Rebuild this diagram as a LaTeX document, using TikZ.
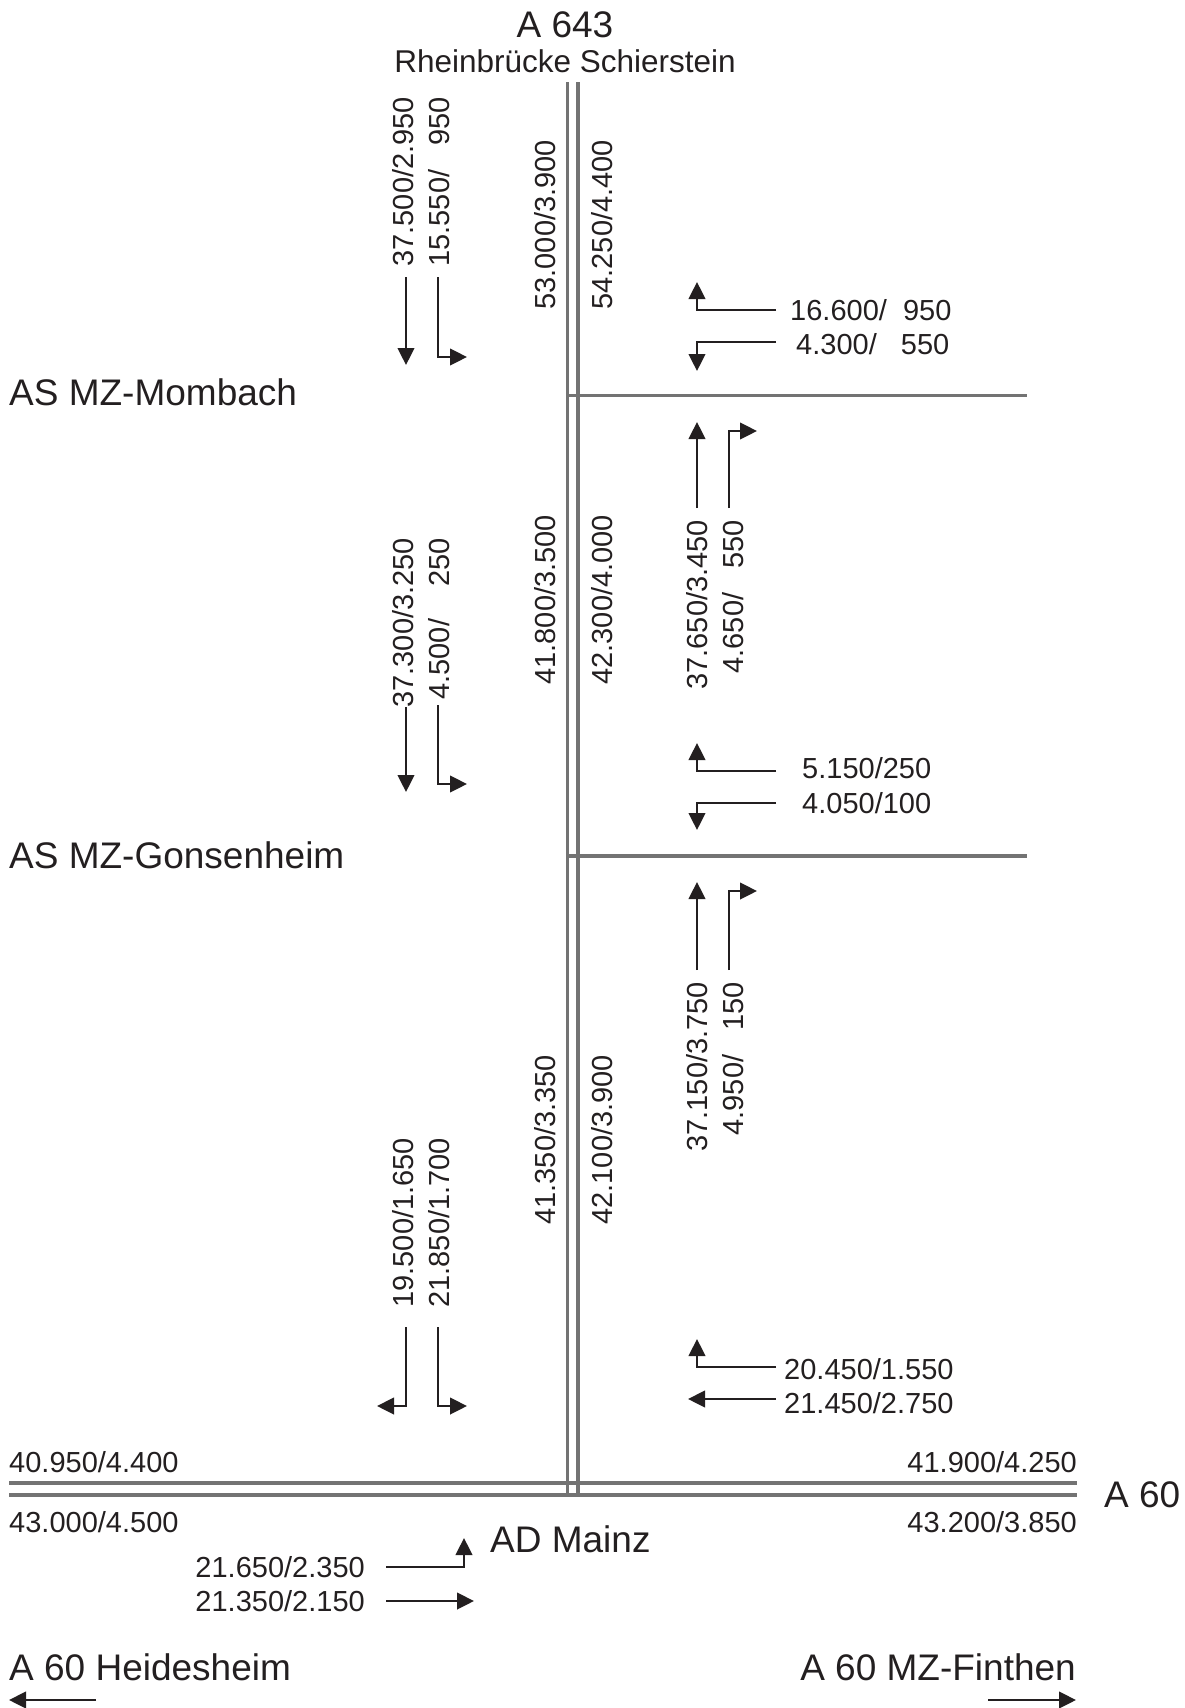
\documentclass[tikz,border=0pt]{standalone}
\usepackage{fontspec}
\setmainfont{Liberation Sans}
\usetikzlibrary{arrows.meta}
\definecolor{ink}{HTML}{231F20}
\definecolor{road}{HTML}{737373}
\newcommand{\sps}[1]{\hspace*{#1\fontdimen2\font}}
\tikzset{
  road/.style={draw=road, line width=3.3pt},
  flow/.style={draw=ink, line width=2.6pt, line join=miter, -{Triangle[length=17pt,width=16.5pt]}},
  num/.style={font=\fontsize{29}{34}\selectfont, text=ink, inner sep=0pt},
  vnum/.style={num, rotate=90, anchor=base east},
  big/.style={font=\fontsize{37}{44}\selectfont, text=ink, inner sep=0pt},
}
\begin{document}
\begin{tikzpicture}[x=1pt, y=-1pt]
\useasboundingbox (0,0) rectangle (1184,1708);
% roads
\draw[road] (567.7,82) -- (567.7,1495);
\draw[road] (578,82) -- (578,1495);
\draw[road] (567.7,395.5) -- (1027,395.5);
\draw[road] (567.7,856) -- (1027,856);
\draw[road] (9,1483) -- (1077,1483);
\draw[road] (9,1495) -- (1077,1495);
% titles
\node[big, anchor=base] (a643) at (565,37) {A 643};
\node[font=\fontsize{31.5}{36}\selectfont, text=ink, inner sep=0pt, anchor=base] (rhein) at (565,72) {Rheinbrücke Schierstein};
\node[big, anchor=base west] (mombach) at (9,405) {AS MZ-Mombach};
\node[big, anchor=base west] (gonsen) at (9,868) {AS MZ-Gonsenheim};
\node[big, anchor=base west] (admainz) at (490,1552) {AD Mainz};
\node[big, anchor=base west] (a60) at (1104,1507) {A 60};
\node[big, anchor=base west] (heides) at (9,1680) {A 60 Heidesheim};
\node[big, anchor=base east] (finthen) at (1076,1680) {A 60 MZ-Finthen};
% vertical numbers
\node[vnum] (l1a) at (413.4,97) {37.500/2.950};
\node[vnum] (l1b) at (449.4,97) {15.550/\sps{3}950};
\node[vnum] (c1a) at (555.4,140) {53.000/3.900};
\node[vnum] (c1b) at (612.4,140) {54.250/4.400};
\node[vnum] (l2a) at (413.4,538) {37.300/3.250};
\node[vnum] (l2b) at (449.4,538) {4.500/\sps{4}250};
\node[vnum] (c2a) at (555.4,515) {41.800/3.500};
\node[vnum] (c2b) at (612.4,515) {42.300/4.000};
\node[vnum] (r2a) at (707.4,520) {37.650/3.450};
\node[vnum] (r2b) at (743.4,520) {4.650/\sps{3}550};
\node[vnum] (r3a) at (707.4,982) {37.150/3.750};
\node[vnum] (r3b) at (743.4,982) {4.950/\sps{3}150};
\node[vnum] (c3a) at (555.4,1055) {41.350/3.350};
\node[vnum] (c3b) at (612.4,1055) {42.100/3.900};
\node[vnum] (l3a) at (413.4,1138) {19.500/1.650};
\node[vnum] (l3b) at (449.4,1138) {21.850/1.700};
% horizontal numbers
\node[num, anchor=base west] (h1) at (790,320) {16.600/\sps{2}950};
\node[num, anchor=base west] (h2) at (796,354) {4.300/\sps{3}550};
\node[num, anchor=base west] (h3) at (802,778) {5.150/250};
\node[num, anchor=base west] (h4) at (802,813) {4.050/100};
\node[num, anchor=base west] (h5) at (784,1379) {20.450/1.550};
\node[num, anchor=base west] (h6) at (784,1413) {21.450/2.750};
\node[num, anchor=base west] (e1) at (9,1472) {40.950/4.400};
\node[num, anchor=base west] (e2) at (9,1532) {43.000/4.500};
\node[num, anchor=base east] (e3) at (1077,1472) {41.900/4.250};
\node[num, anchor=base east] (e4) at (1077,1532) {43.200/3.850};
\node[num, anchor=base east] (m1) at (365,1577) {21.650/2.350};
\node[num, anchor=base east] (m2) at (365,1611) {21.350/2.150};
% flow arrows
\draw[flow] (406,277) -- (406,365);
\draw[flow] (438,277) -- (438,357) -- (467,357);
\draw[flow] (776,310) -- (697,310) -- (697,282);
\draw[flow] (776,342) -- (697,342) -- (697,371);
\draw[flow] (697,508) -- (697,422);
\draw[flow] (729,508) -- (729,431) -- (757,431);
\draw[flow] (406,707) -- (406,792);
\draw[flow] (438,705) -- (438,784) -- (467,784);
\draw[flow] (776,771) -- (697,771) -- (697,743);
\draw[flow] (776,803) -- (697,803) -- (697,830);
\draw[flow] (697,970) -- (697,882);
\draw[flow] (729,970) -- (729,891) -- (757,891);
\draw[flow] (406,1327) -- (406,1406) -- (377,1406);
\draw[flow] (438,1327) -- (438,1406) -- (467,1406);
\draw[flow] (776,1367) -- (697,1367) -- (697,1339);
\draw[flow] (776,1399) -- (688,1399);
\draw[flow] (386,1567) -- (464,1567) -- (464,1538);
\draw[flow] (386,1601) -- (474,1601);
\draw[flow] (96,1700) -- (9,1700);
\draw[flow] (988,1700) -- (1076,1700);
\end{tikzpicture}
\end{document}
